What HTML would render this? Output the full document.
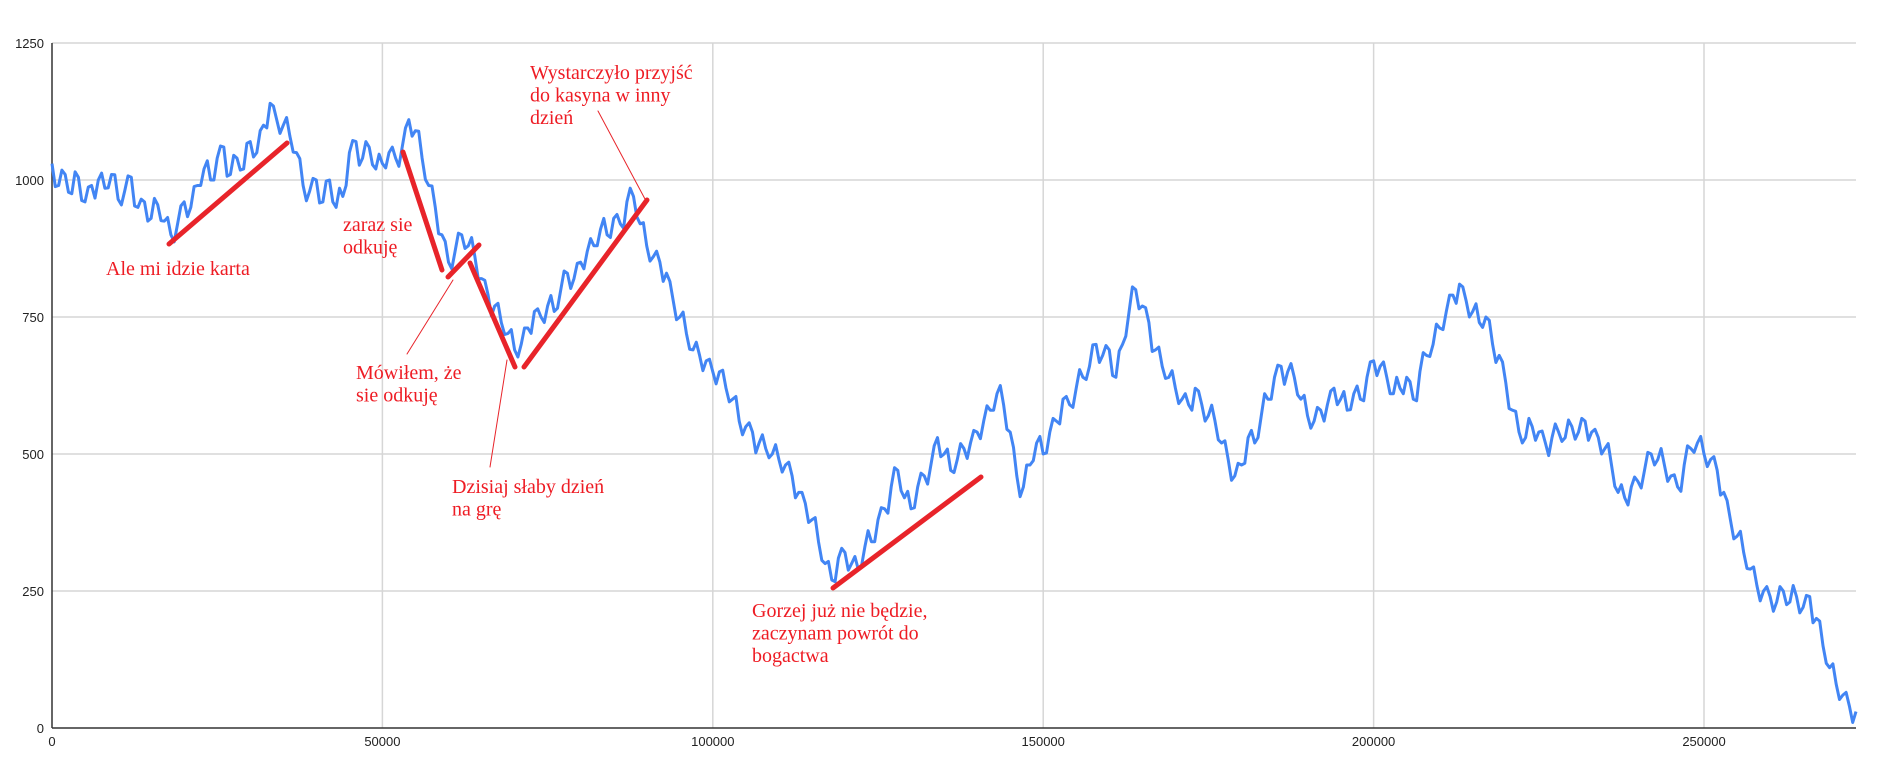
<!DOCTYPE html>
<html><head><meta charset="utf-8"><style>
body{margin:0;background:#fff;}
svg{display:block;}
.tick{font-family:"Liberation Sans",sans-serif;font-size:13px;fill:#222;}
.ann{font-family:"Liberation Serif",serif;font-size:20px;fill:#ee1c24;}
</style></head><body>
<svg id="chart" width="1882" height="780" viewBox="0 0 1882 780" xmlns="http://www.w3.org/2000/svg">
<g id="grid"></g>
<g id="axes"></g>
<path id="series" fill="none" stroke="#4285f4" stroke-width="3" stroke-linejoin="round"/>
<g stroke="#e8242a" stroke-linecap="round">
<line x1="169" y1="244" x2="287" y2="143" stroke-width="5"/>
<line x1="403" y1="152" x2="442" y2="270" stroke-width="5"/>
<line x1="448" y1="277" x2="479" y2="245" stroke-width="5"/>
<line x1="470" y1="263" x2="515" y2="367" stroke-width="5"/>
<line x1="524" y1="367" x2="647" y2="200" stroke-width="5"/>
<line x1="833" y1="588" x2="981" y2="477" stroke-width="5"/>
<line x1="407" y1="354" x2="453" y2="280" stroke-width="1"/>
<line x1="490" y1="467" x2="507" y2="360" stroke-width="1"/>
<line x1="598" y1="111" x2="645" y2="199" stroke-width="1"/>
</g>
<text class="ann" x="106" y="275">Ale mi idzie karta</text>
<text class="ann" x="343" y="231">zaraz sie<tspan x="343" dy="22.5">odkuję</tspan></text>
<text class="ann" x="356" y="379">Mówiłem, że<tspan x="356" dy="22.5">sie odkuję</tspan></text>
<text class="ann" x="452" y="493">Dzisiaj słaby dzień<tspan x="452" dy="22.5">na grę</tspan></text>
<text class="ann" x="530" y="79">Wystarczyło przyjść<tspan x="530" dy="22.5">do kasyna w inny</tspan><tspan x="530" dy="22.5">dzień</tspan></text>
<text class="ann" x="752" y="617">Gorzej już nie będzie,<tspan x="752" dy="22.5">zaczynam powrót do</tspan><tspan x="752" dy="22.5">bogactwa</tspan></text>
</svg>
<script>
const xStep = 1000;
const values = [1030,990,1010,975,1005,960,990,1000,985,1010,965,980,1005,950,960,930,955,925,900,920,960,
950,990,1020,1000,1040,1060,1010,1040,1020,1070,1050,1100,1140,1110,1100,1080,1050,990,980,1000,
960,1000,950,970,1050,1070,1040,1060,1020,1030,1050,1040,1060,1110,1090,1040,990,950,900,850,
870,900,880,860,820,790,770,740,720,690,700,730,760,750,770,760,800,830,820,850,
870,880,910,900,930,920,960,970,920,880,860,850,830,780,750,720,690,680,670,650,
650,620,600,560,550,540,520,510,500,490,480,460,430,410,380,340,300,270,310,320,
300,290,330,340,380,400,440,470,420,400,440,460,480,530,500,470,490,510,520,540,
560,580,610,590,540,460,440,480,520,500,540,560,600,590,620,640,660,700,680,690,
640,700,760,800,770,740,690,660,640,620,600,590,620,590,570,560,520,490,460,480,
530,520,570,600,640,660,650,640,600,570,560,580,590,620,600,580,610,600,640,670,
660,640,610,620,640,600,650,680,700,730,760,790,810,780,760,740,750,700,680,630,
580,540,530,550,540,520,530,540,530,550,540,560,540,530,510,480,430,420,440,450,
470,500,490,480,460,440,480,510,520,500,490,470,430,380,350,320,290,260,250,240,
230,250,230,240,220,240,200,150,110,80,60,40,30];
const midOffsets = [-22,18,-15,25,-20,12,-28,20,-12,22,-18,15,-25,10,-20,24,-14,19,-23,13];
const yTicks = [0,250,500,750,1000,1250];
const xTicks = [0,50000,100000,150000,200000,250000];
const xMax = 273000, yMax = 1250;
const L=52, R=1856, T=43, B=728;
const xs = v => L + v/xMax*(R-L);
const ys = v => B - v/yMax*(B-T);
const NS="http://www.w3.org/2000/svg";
const grid=document.getElementById('grid'), axes=document.getElementById('axes');
function mk(tag,attrs,parent){const e=document.createElementNS(NS,tag);for(const k in attrs)e.setAttribute(k,attrs[k]);parent.appendChild(e);return e;}
yTicks.forEach(t=>{
  if(t>0){const g=mk('line',{x1:L,x2:R,y1:ys(t),y2:ys(t),stroke:'#d6d6d6','stroke-width':1.5},grid);
  
  }
  const lb=mk('text',{x:L-8,y:ys(t)+5,'text-anchor':'end',class:'tick'},axes);
  
  
  lb.textContent=t;
});
xTicks.forEach(t=>{
  if(t>0){const g=mk('line',{x1:xs(t),x2:xs(t),y1:T,y2:B,stroke:'#d6d6d6','stroke-width':1.5},grid);
  
  }
  const lb=mk('text',{x:xs(t),y:B+18,'text-anchor':'middle',class:'tick'},axes);
  
  
  lb.textContent=t;
});
const xa=mk('line',{x1:L,x2:R,y1:B,y2:B,stroke:'#333','stroke-width':1.5},axes);


const ya=mk('line',{x1:L,x2:L,y1:T,y2:B,stroke:'#333','stroke-width':1.5},axes);


let d='';
values.forEach((v,i)=>{
  d+=(i?'L':'M')+xs(i*xStep).toFixed(1)+','+ys(v).toFixed(1);
  if(i<values.length-1){
    const m=(v+values[i+1])/2+midOffsets[i%midOffsets.length];
    d+='L'+xs(i*xStep+xStep/2).toFixed(1)+','+ys(Math.max(0,m)).toFixed(1);
  }
});
document.getElementById('series').setAttribute('d',d);
</script>
</body></html>
